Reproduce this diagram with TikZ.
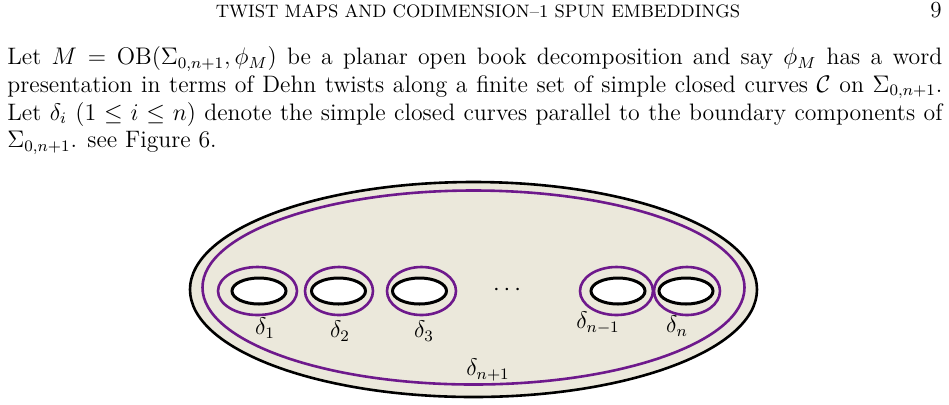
\documentclass[tikz,border=0pt]{standalone}
\usepackage{amsmath,amssymb}
\begin{document}
\begin{tikzpicture}[x=0.5pt,y=-0.5pt,
  hole/.style={draw=black,line width=1.5pt,fill=white},
  curve/.style={draw=pur,line width=1.3pt},
  lab/.style={inner sep=0pt,font=\fontsize{12}{14}\selectfont}]
\definecolor{pur}{RGB}{110,25,140}
\definecolor{cream}{RGB}{235,232,219}
\useasboundingbox (0,0) rectangle (949,404);
\node[anchor=base,inner sep=0pt,font=\fontsize{9}{10}\selectfont] (head) at (478,17) {TWIST MAPS AND CODIMENSION--1 SPUN EMBEDDINGS};
\node[anchor=base east,inner sep=0pt,font=\fontsize{11.5}{13}\selectfont] (pg) at (942,17) {9};
\node[anchor=north west,inner sep=0pt,text width=467.5pt,align=justify,font=\fontsize{11.9}{13.9}\selectfont] (par) at (7,46) {Let $M=\mathrm{OB}(\Sigma_{0,n+1},\phi_M)$ be a planar open book decomposition and say $\phi_M$ has a word\linebreak presentation in terms of Dehn twists along a finite set of simple closed curves $\mathcal{C}$ on $\Sigma_{0,n+1}$.\linebreak Let $\delta_i$ $(1\le i\le n)$ denote the simple closed curves parallel to the boundary components of\linebreak $\Sigma_{0,n+1}$. see Figure 6.};
\draw[line width=1.3pt,fill=cream] (473.5,289.5) ellipse [x radius=141.75pt,y radius=53.75pt];
\draw[curve] (473.5,287.5) ellipse [x radius=135.5pt,y radius=48.5pt];
\foreach \c/\bx/\px/\prx in {1/259/257.5/39.5, 2/338.5/339/34, 3/419.5/421.5/34.5, 4/618/616.5/36.5, 5/686/687/33}{
  \draw[curve] (\px,291) ellipse [x radius=\prx*0.5pt,y radius=12pt];
  \draw[hole] (\bx,291) ellipse [x radius=13.5pt,y radius=6.5pt];
}
\node[lab] (d1) at (265,328) {$\delta_1$};
\node[lab] (d2) at (340,331) {$\delta_2$};
\node[lab] (d3) at (424,331) {$\delta_3$};
\node[lab] (dots) at (509,290) {$\cdots$};
\node[lab] (dn1) at (598,323) {$\delta_{n-1}$};
\node[lab] (dn) at (677,326) {$\delta_n$};
\node[lab] (dn2) at (488,370) {$\delta_{n+1}$};
\end{tikzpicture}
\end{document}
